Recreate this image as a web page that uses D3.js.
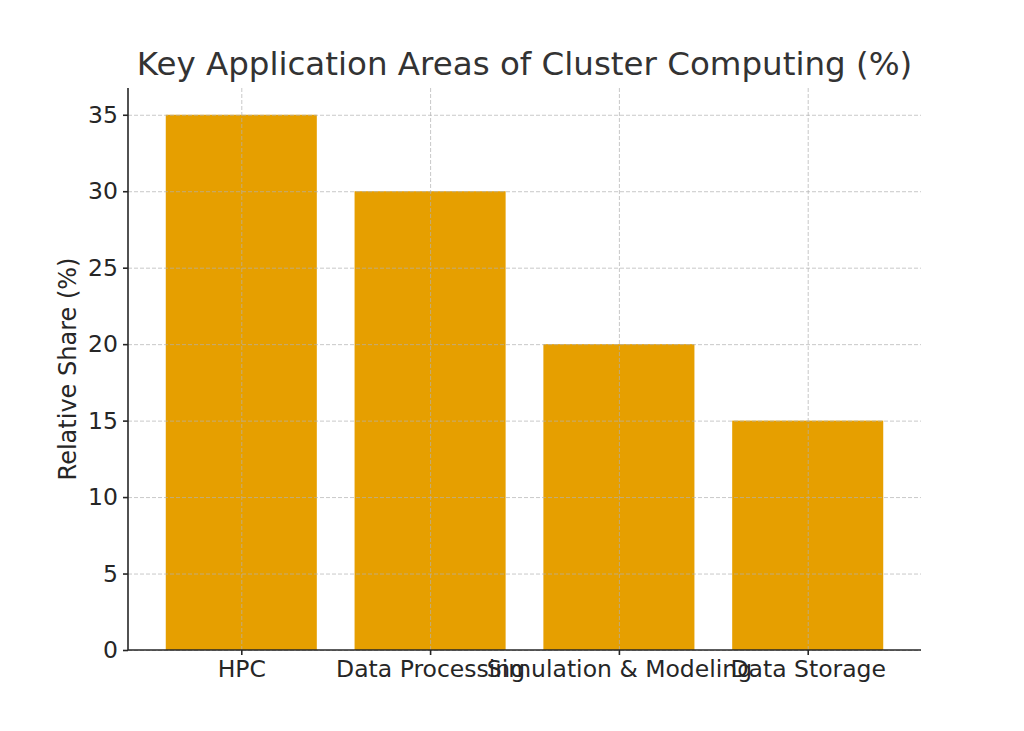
<!DOCTYPE html>
<html>
<head>
<meta charset="utf-8">
<script src="https://cdn.jsdelivr.net/npm/d3@7"></script>
<style>
  body { margin: 0; background: #fff; }
  svg { display: block; font-family: "DejaVu Sans", sans-serif; }
</style>
</head>
<body>
<svg id="chart" width="1024" height="731"></svg>
<script>
var categories = ["HPC", "Data Processing", "Simulation & Modeling", "Data Storage"];
var shares = [35, 30, 20, 15];
var yTicks = [0, 5, 10, 15, 20, 25, 30, 35];

var svg = d3.select("#chart");
var margin = { left: 128, right: 103, top: 88, bottom: 81 };
var width = 1024 - margin.left - margin.right;
var height = 731 - margin.top - margin.bottom;

var data = categories.map(function(c, i) { return { name: c, value: shares[i] }; });

// matplotlib style: bar width 0.8, axis from -0.6 to n-0.4
var xLin = d3.scaleLinear().domain([-0.6, categories.length - 0.4]).range([0, width]);
var y = d3.scaleLinear().domain([0, 36.75]).range([height, 0]);

var g = svg.append("g").attr("transform", "translate(" + margin.left + "," + margin.top + ")");

// bars
g.selectAll(".bar")
    .data(data)
    .enter().append("rect")
    .attr("class", "bar")
    .attr("x", function(d, i) { return xLin(i - 0.4); })
    .attr("width", function(d, i) { return xLin(i + 0.4) - xLin(i - 0.4); })
    .attr("y", function(d) { return y(d.value); })
    .attr("height", function(d) { return height - y(d.value); })
    .attr("fill", "#E69F00");

// gridlines (drawn above the bars)
function styleGrid(s) {
    s.select(".domain").remove();
    s.selectAll("line")
        .attr("stroke", "#b0b0b0")
        .attr("stroke-opacity", 0.7)
        .attr("stroke-dasharray", "4,2");
}

g.append("g")
    .call(d3.axisLeft(y).tickValues(yTicks).tickSize(-width).tickFormat(""))
    .call(styleGrid);

g.append("g")
    .attr("transform", "translate(0," + height + ")")
    .call(d3.axisBottom(xLin).tickValues(d3.range(categories.length)).tickSize(-height).tickFormat(""))
    .call(styleGrid);

// x axis
var xAxis = g.append("g")
    .attr("transform", "translate(0," + height + ")")
    .call(d3.axisBottom(xLin)
        .tickValues(d3.range(categories.length))
        .tickFormat(function(i) { return categories[i]; })
        .tickSize(5).tickSizeOuter(0).tickPadding(5));

// y axis
var yAxis = g.append("g")
    .call(d3.axisLeft(y).tickValues(yTicks).tickSize(5).tickSizeOuter(0).tickPadding(5));

[xAxis, yAxis].forEach(function(ax) {
    ax.attr("font-family", "DejaVu Sans").attr("font-size", 23.5);
    ax.select(".domain").attr("stroke", "#262626").attr("stroke-width", 1.6);
    ax.selectAll(".tick line").attr("stroke", "#262626").attr("stroke-width", 1.6);
    ax.selectAll(".tick text").attr("fill", "#262626");
});
xAxis.select(".domain").attr("d", "M0,0H" + width);
yAxis.select(".domain").attr("d", "M0," + height + "V0");

// axis label
svg.append("text")
    .attr("transform", "translate(76," + (margin.top + height / 2) + ") rotate(-90)")
    .attr("text-anchor", "middle")
    .attr("font-size", 24)
    .attr("fill", "#262626")
    .text("Relative Share (%)");

// title
svg.append("text")
    .attr("x", margin.left + width / 2)
    .attr("y", 75)
    .attr("text-anchor", "middle")
    .attr("font-size", 32.5)
    .attr("fill", "#333333")
    .text("Key Application Areas of Cluster Computing (%)");
</script>
</body>
</html>
